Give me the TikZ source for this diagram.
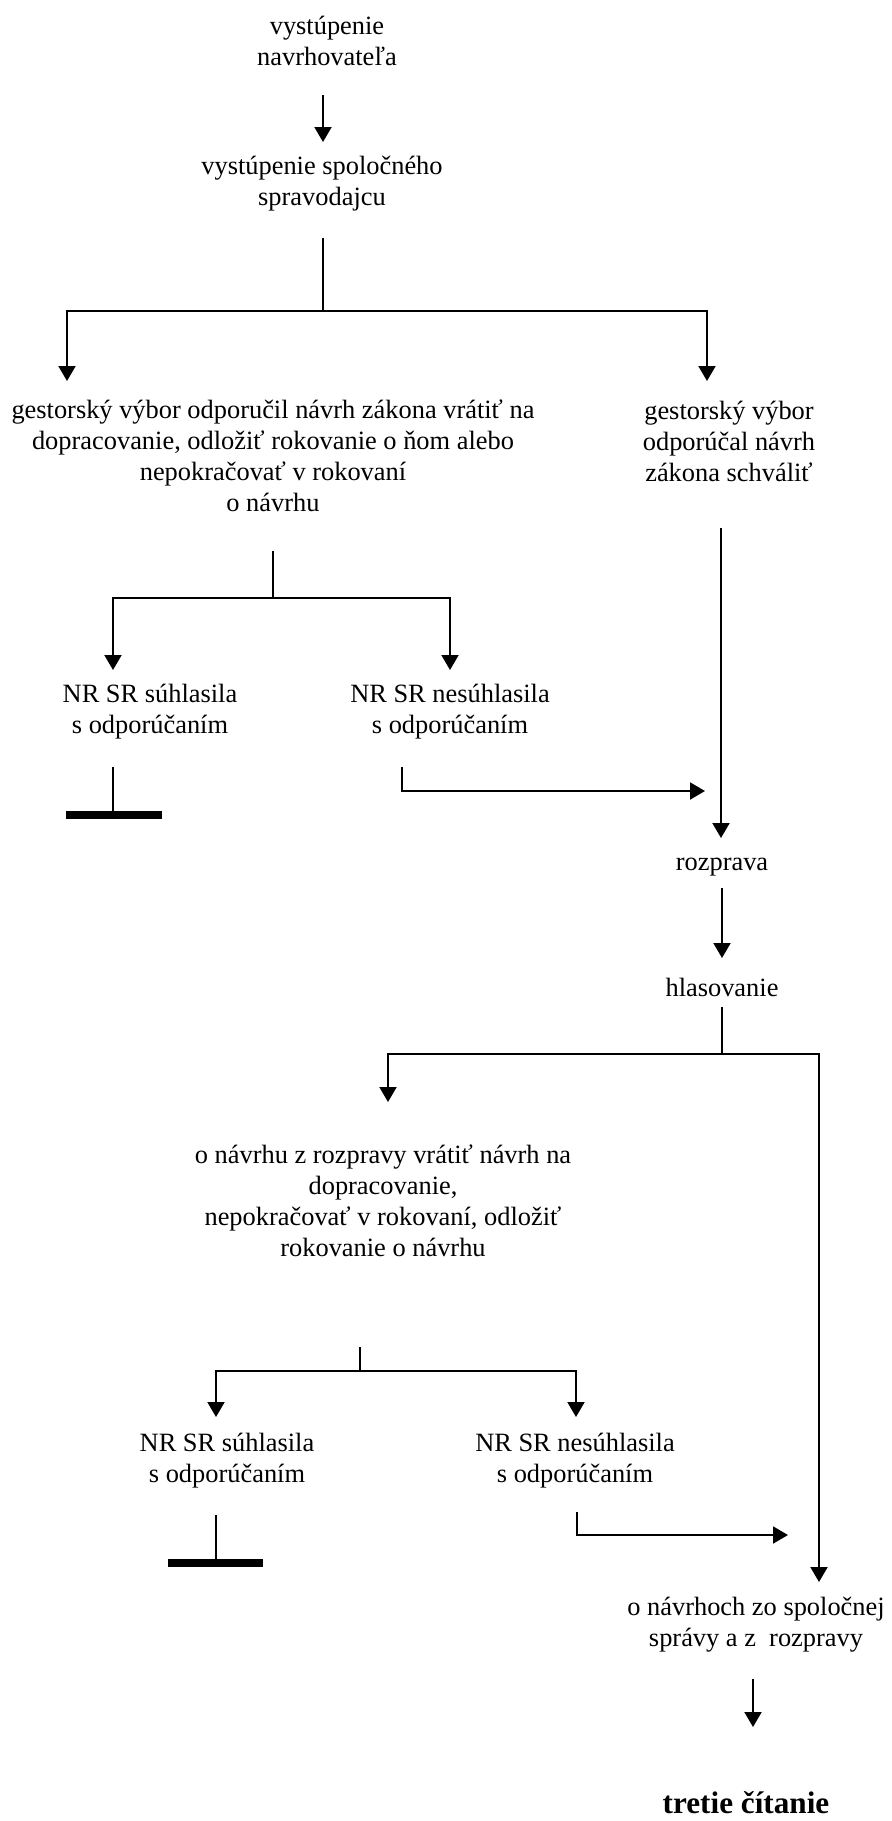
\documentclass[tikz,border=0pt]{standalone}
\usepackage{fontspec}
\setmainfont{Liberation Serif}
\usetikzlibrary{arrows.meta}
\tikzset{
    % Text styles
    steptext/.style={
        align=center, inner sep=0pt,
        font=\fontsize{13.2}{15.5}\selectfont
    },
    finaltext/.style={
        inner sep=0pt,
        font=\fontsize{15.6}{18}\selectfont\bfseries
    },
    % Connector styles
    flowline/.style={line width=1pt, -{Triangle[width=8.5pt,length=7.5pt]}},
    stemline/.style={line width=0.7pt},
    stopbar/.style={line width=4pt}
}

\begin{document}
\begin{tikzpicture}[x=0.5pt,y=-0.5pt]
\useasboundingbox (0,0) rectangle (891,1821);

% Opening steps
\node[steptext] (navrh) at (327,41) {vystúpenie\\navrhovateľa};
\node[steptext] (sprav) at (322,184) {vystúpenie spoločného\\spravodajcu};
\coordinate (navrhout) at (323,95);
\coordinate (spravin) at (323,142);
\draw[flowline] (navrhout) -- (spravin);

% First branching
\coordinate (spravout) at (323,238);
\coordinate (split1) at (323,311);
\coordinate (vratin) at (67,381);
\coordinate (schvalin) at (707,381);
\draw[stemline] (spravout) -- (split1);
\draw[flowline] (split1) -| (vratin);
\draw[flowline] (split1) -| (schvalin);

\node[steptext] (vrat) at (273,456) {gestorský výbor odporučil návrh zákona vrátiť na\\dopracovanie, odložiť rokovanie o ňom alebo\\nepokračovať v rokovaní\\o návrhu};
\node[steptext] (schval) at (729,441) {gestorský výbor\\odporúčal návrh\\zákona schváliť};

% Plenary decision on the recommendation
\coordinate (vratout) at (273,551);
\coordinate (split2) at (273,598);
\coordinate (suhl1in) at (113,670);
\coordinate (nesuhl1in) at (450,670);
\draw[stemline] (vratout) -- (split2);
\draw[flowline] (split2) -| (suhl1in);
\draw[flowline] (split2) -| (nesuhl1in);

\node[steptext] (suhl1) at (150,712) {NR SR súhlasila\\s odporúčaním};
\node[steptext] (nesuhl1) at (450,712) {NR SR nesúhlasila\\s odporúčaním};

% End of procedure
\coordinate (suhl1out) at (113,767);
\coordinate (stop1) at (113,815);
\draw[stemline] (suhl1out) -- (stop1);
\draw[stopbar] ([xshift=-23.5pt]stop1) -- ([xshift=24.5pt]stop1);

% Back to debate
\coordinate (nesuhl1out) at (402,767);
\coordinate (nesuhl1turn) at (402,791);
\coordinate (nesuhl1end) at (705,791);
\draw[flowline] (nesuhl1out) -- (nesuhl1turn) -- (nesuhl1end);

\coordinate (schvalout) at (721,528);
\coordinate (rozpin) at (721,838);
\draw[flowline] (schvalout) -- (rozpin);

\node[steptext] (rozp) at (722,867) {rozprava};
\node[steptext] (hlas) at (722,987) {hlasovanie};
\coordinate (rozpout) at (722,888);
\coordinate (hlasin) at (722,958);
\draw[flowline] (rozpout) -- (hlasin);

% Second branching
\coordinate (hlasout) at (722,1007);
\coordinate (split3) at (722,1054);
\coordinate (ovratin) at (388,1102);
\coordinate (ozavin) at (819,1582);
\draw[stemline] (hlasout) -- (split3);
\draw[flowline] (split3) -| (ovratin);
\draw[flowline] (split3) -| (ozavin);

\node[steptext] (ovrat) at (383,1201) {o návrhu z rozpravy vrátiť návrh na\\dopracovanie,\\nepokračovať v rokovaní, odložiť\\rokovanie o návrhu};

\coordinate (ovratout) at (360,1347);
\coordinate (split4) at (360,1371);
\coordinate (suhl2in) at (216,1417);
\coordinate (nesuhl2in) at (576,1417);
\draw[stemline] (ovratout) -- (split4);
\draw[flowline] (split4) -| (suhl2in);
\draw[flowline] (split4) -| (nesuhl2in);

\node[steptext] (suhl2) at (227,1461) {NR SR súhlasila\\s odporúčaním};
\node[steptext] (nesuhl2) at (575,1461) {NR SR nesúhlasila\\s odporúčaním};

\coordinate (suhl2out) at (216,1515);
\coordinate (stop2) at (216,1563);
\draw[stemline] (suhl2out) -- (stop2);
\draw[stopbar] ([xshift=-24pt]stop2) -- ([xshift=23.5pt]stop2);

\coordinate (nesuhl2out) at (577,1512);
\coordinate (nesuhl2turn) at (577,1535);
\coordinate (nesuhl2end) at (788,1535);
\draw[flowline] (nesuhl2out) -- (nesuhl2turn) -- (nesuhl2end);

% Closing
\node[steptext] (ozav) at (756,1625) {o návrhoch zo spoločnej\\správy a z~ rozpravy};
\coordinate (ozavout) at (753,1679);
\coordinate (tretiein) at (753,1727);
\draw[flowline] (ozavout) -- (tretiein);

\node[finaltext] (tretie) at (746,1803) {tretie čítanie};

\end{tikzpicture}
\end{document}
